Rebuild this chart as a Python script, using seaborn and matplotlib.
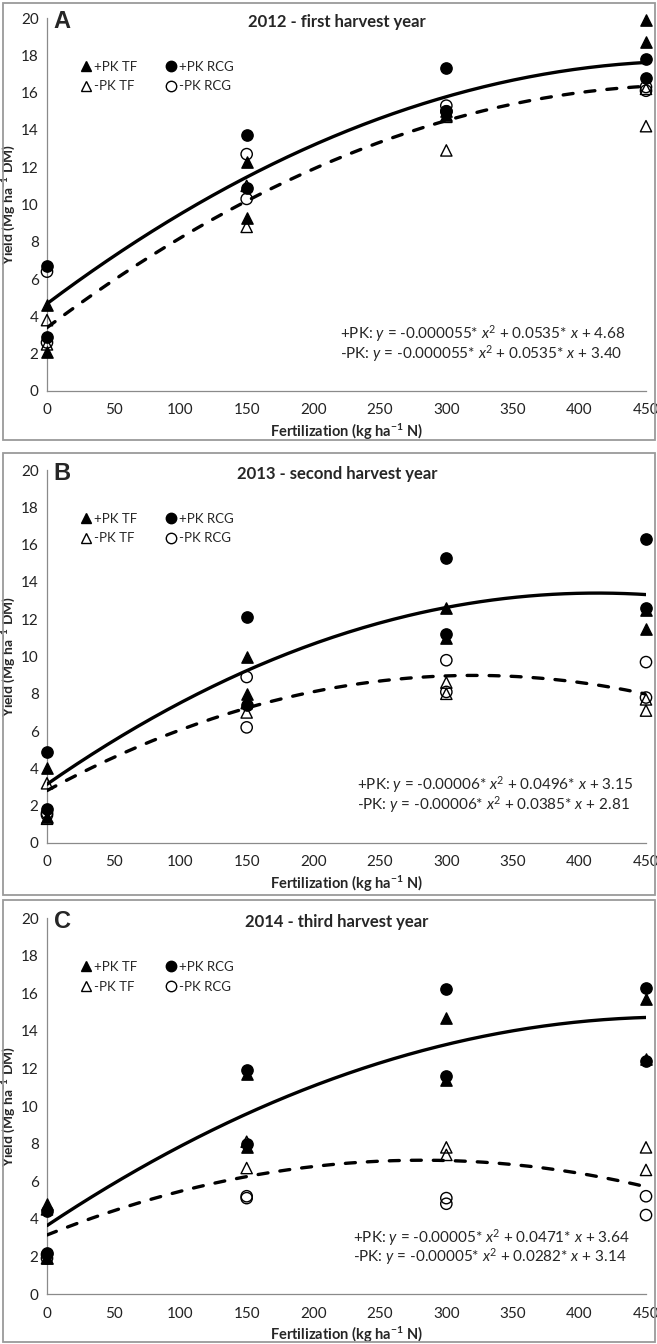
import numpy as np
import pandas as pd
import matplotlib
matplotlib.use("Agg")
import matplotlib.pyplot as plt
from matplotlib.lines import Line2D
from matplotlib.patches import Rectangle
import seaborn as sns

# N fertilization levels (kg ha-1 N)
n_levels = [0, 150, 300, 450]

# Yields (Mg ha-1 DM), two replicate values per N level: (first, second)
yield_2012_pk_tf = [(4.6, 2.1), (12.3, 9.3), (15.0, 14.8), (19.9, 18.7)]
yield_2012_pk_rcg = [(6.7, 2.9), (13.7, 10.9), (17.3, 15.0), (17.8, 16.8)]
yield_2012_nopk_tf = [(3.8, 2.5), (8.8, 11.0), (12.9, 14.7), (16.2, 14.2)]
yield_2012_nopk_rcg = [(6.4, 2.6), (12.7, 10.3), (15.3, 15.0), (16.3, 16.1)]

yield_2013_pk_tf = [(4.0, 1.4), (10.0, 8.0), (12.6, 11.0), (12.5, 11.5)]
yield_2013_pk_rcg = [(4.9, 1.8), (12.1, 7.4), (15.3, 11.2), (16.3, 12.6)]
yield_2013_nopk_tf = [(3.2, 1.3), (7.0, 7.5), (8.6, 8.0), (7.7, 7.1)]
yield_2013_nopk_rcg = [(1.6, 1.5), (8.9, 6.2), (9.8, 8.1), (9.7, 7.8)]

yield_2014_pk_tf = [(4.8, 1.9), (11.7, 7.8), (14.7, 11.4), (15.7, 12.5)]
yield_2014_pk_rcg = [(4.4, 2.2), (11.9, 8.0), (16.2, 11.6), (16.3, 12.4)]
yield_2014_nopk_tf = [(4.5, 1.9), (8.1, 6.7), (7.8, 7.4), (7.8, 6.6)]
yield_2014_nopk_rcg = [(2.1, 1.9), (5.2, 5.1), (5.1, 4.8), (5.2, 4.2)]

# Quadratic fits: (a, b, c) for y = a*x^2 + b*x + c
fit_2012_pk = (-0.000055, 0.0535, 4.68)
fit_2012_nopk = (-0.000055, 0.0535, 3.40)
fit_2013_pk = (-0.00006, 0.0496, 3.15)
fit_2013_nopk = (-0.00006, 0.0385, 2.81)
fit_2014_pk = (-0.00005, 0.0471, 3.64)
fit_2014_nopk = (-0.00005, 0.0282, 3.14)

panel_letters = ["A", "B", "C"]
panel_titles = ["2012 - first harvest year", "2013 - second harvest year",
                "2014 - third harvest year"]
eq_texts = [
    ("+PK: $\\it{y}$ = -0.000055* $\\it{x}$$^{2}$ + 0.0535* $\\it{x}$ + 4.68",
     "-PK: $\\it{y}$ = -0.000055* $\\it{x}$$^{2}$ + 0.0535* $\\it{x}$ + 3.40"),
    ("+PK: $\\it{y}$ = -0.00006* $\\it{x}$$^{2}$ + 0.0496* $\\it{x}$ + 3.15",
     "-PK: $\\it{y}$ = -0.00006* $\\it{x}$$^{2}$ + 0.0385* $\\it{x}$ + 2.81"),
    ("+PK: $\\it{y}$ = -0.00005* $\\it{x}$$^{2}$ + 0.0471* $\\it{x}$ + 3.64",
     "-PK: $\\it{y}$ = -0.00005* $\\it{x}$$^{2}$ + 0.0282* $\\it{x}$ + 3.14"),
]
# equation anchor (left x, first row y, second row y) in data units
eq_pos = [(220, 3.1, 2.0), (233, 3.13, 2.07), (230, 2.98, 2.0)]

years = [
    dict(pk_tf=yield_2012_pk_tf, pk_rcg=yield_2012_pk_rcg,
         nopk_tf=yield_2012_nopk_tf, nopk_rcg=yield_2012_nopk_rcg,
         fit_pk=fit_2012_pk, fit_nopk=fit_2012_nopk),
    dict(pk_tf=yield_2013_pk_tf, pk_rcg=yield_2013_pk_rcg,
         nopk_tf=yield_2013_nopk_tf, nopk_rcg=yield_2013_nopk_rcg,
         fit_pk=fit_2013_pk, fit_nopk=fit_2013_nopk),
    dict(pk_tf=yield_2014_pk_tf, pk_rcg=yield_2014_pk_rcg,
         nopk_tf=yield_2014_nopk_tf, nopk_rcg=yield_2014_nopk_rcg,
         fit_pk=fit_2014_pk, fit_nopk=fit_2014_nopk),
]

sns.set_theme(style="white")
plt.rcParams["font.family"] = ["Lato", "DejaVu Sans"]
plt.rcParams["mathtext.fontset"] = "custom"
plt.rcParams["mathtext.rm"] = "Lato"
plt.rcParams["mathtext.it"] = "Lato:italic"
plt.rcParams["mathtext.bf"] = "Lato:bold"

W, H = 657, 1344
fig = plt.figure(figsize=(W / 100, H / 100), dpi=100)
fig.patch.set_facecolor("white")

axis_grey = "#8a8a8a"

# pixel geometry of each panel: (box top, box bottom, y=20 row, y=0 row)
panel_px = [(3, 440, 18, 391), (453, 895, 470, 843), (900, 1342, 918, 1294)]
x0_px, x450_px = 47, 646

# series drawing specs: key, marker, filled, legend label
series_spec = [
    ("nopk_tf", "^", False, "-PK TF"),
    ("nopk_rcg", "o", False, "-PK RCG"),
    ("pk_tf", "^", True, "+PK TF"),
    ("pk_rcg", "o", True, "+PK RCG"),
]


def to_frame(values):
    rows = []
    for n, pair in zip(n_levels, values):
        for v in pair:
            rows.append({"N": n, "Yield": v})
    return pd.DataFrame(rows)


for i, (yr, (btop, bbot, ytop, ybot)) in enumerate(zip(years, panel_px)):
    # panel frame
    fig.patches.append(Rectangle((3 / W, 1 - bbot / H), (W - 5) / W, (bbot - btop) / H,
                                 transform=fig.transFigure, fill=False,
                                 edgecolor="#9a9a9a", linewidth=1.3, zorder=0))
    ax = fig.add_axes([x0_px / W, 1 - ybot / H, (x450_px - x0_px) / W, (ybot - ytop) / H])
    ax.set_facecolor("none")

    # fitted curves
    xs = np.linspace(0, 450, 200)
    a, b, c = yr["fit_pk"]
    curve_pk = pd.DataFrame({"N": xs, "Yield": a * xs ** 2 + b * xs + c})
    a, b, c = yr["fit_nopk"]
    curve_nopk = pd.DataFrame({"N": xs, "Yield": a * xs ** 2 + b * xs + c})
    sns.lineplot(data=curve_pk, x="N", y="Yield", ax=ax, color="black",
                 linewidth=2.4, zorder=3, solid_capstyle="round")
    sns.lineplot(data=curve_nopk, x="N", y="Yield", ax=ax, color="black",
                 linewidth=2.4, zorder=3)
    ax.lines[-1].set_linestyle((0, (3.0, 3.6)))
    ax.lines[-1].set_dash_capstyle("round")

    # observed yields
    for key, marker, filled, label in series_spec:
        df = to_frame(yr[key])
        sns.scatterplot(data=df, x="N", y="Yield", ax=ax, marker=marker, s=66,
                        color="black", edgecolor="black", linewidth=1.0,
                        zorder=4, clip_on=False, legend=False)
        coll = ax.collections[-1]
        coll.set_facecolor("black" if filled else "none")
        coll.set_edgecolor("black")

    ax.set_xlim(0, 450)
    ax.set_ylim(0, 20)
    ax.set_xticks(range(0, 451, 50))
    ax.set_yticks(range(0, 21, 2))
    sns.despine(ax=ax)
    for side in ("left", "bottom"):
        ax.spines[side].set_color(axis_grey)
        ax.spines[side].set_linewidth(0.9)
    ax.tick_params(axis="both", which="both", direction="out", length=4, width=0.9,
                   color=axis_grey, labelsize=11, labelcolor="#222222", pad=2)
    ax.tick_params(axis="x", pad=5)
    ax.set_xlabel("Fertilization (kg ha$^{\\mathbf{-1}}$ N)", fontsize=10.5,
                  fontweight="bold", labelpad=3)
    ax.set_ylabel("Yield (Mg ha$^{\\mathbf{-1}}$ DM)", fontsize=10,
                  fontweight="bold", labelpad=2)

    ax.text(5, 19.8, panel_letters[i], fontsize=17, fontweight="bold",
            family=["Liberation Sans", "DejaVu Sans"], va="center", ha="left")
    ax.text(218, 19.8, panel_titles[i], fontsize=12, fontweight="bold",
            va="center", ha="center")

    l1, l2 = eq_texts[i]
    ex, ey1, ey2 = eq_pos[i]
    ax.text(ex, ey1, l1, fontsize=11, va="center", ha="left")
    ax.text(ex, ey2, l2, fontsize=11, va="center", ha="left")

    handles = []
    labels = []
    for key, marker, filled, label in [series_spec[2], series_spec[0],
                                       series_spec[3], series_spec[1]]:
        handles.append(Line2D([], [], linestyle="none", marker=marker, markersize=7.5,
                              markerfacecolor="black" if filled else "none",
                              markeredgecolor="black", markeredgewidth=1.0))
        labels.append(label)
    ax.legend(handles, labels, ncol=2, loc="upper left",
              bbox_to_anchor=(0.045, 0.9), frameon=False, fontsize=9.5,
              handletextpad=0.15, columnspacing=2.0, labelspacing=0.6,
              handlelength=1.0, borderaxespad=0)

fig.savefig("out.png", dpi=100, facecolor="white")
